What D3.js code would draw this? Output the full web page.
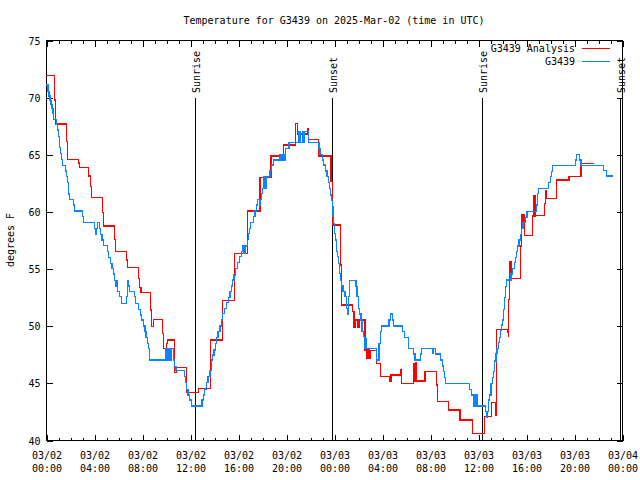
<!DOCTYPE html>
<html><head><meta charset="utf-8">
<script src="https://cdn.jsdelivr.net/npm/d3@7"></script>
<style>
body{margin:0;background:#fff}
svg{display:block}
text{font-family:"DejaVu Sans Mono",monospace;font-size:10px;fill:#000}
</style></head><body>
<svg id="c" width="640" height="480"></svg>
<script>
const titleText = "Temperature for G3439 on 2025-Mar-02 (time in UTC)";
const yLabel = "degrees F";
const seriesNames = ["G3439 Analysis", "G3439"];
const startTime = "2025-03-02T00:00:00Z";
const endTime = "2025-03-04T00:00:00Z";
const yTicks = [40, 45, 50, 55, 60, 65, 70, 75];
const sunEvents = ["Sunrise", "Sunset", "Sunrise", "Sunset"];
const sunHours = [12.45, 23.87, 36.37, 47.87];

// Analysis (hours since start, deg F)
const analysisHours = [0,0.72,0.81,1.69,1.78,2.69,2.78,3.53,3.69,3.78,4.72,4.78,5.69,5.78,6.69,6.78,7.72,7.81,7.92,8.69,8.78,8.94,9.72,9.81,10.03,10.11,10.72,10.89,11.72,12.72,13.72,14.72,15.72,16.78,17.83,18.75,19.78,20.81,20.94,21.81,21.89,22.69,23.75,23.85,24.53,24.64,25.56,25.67,25.81,25.97,26.08,26.58,26.69,26.81,26.92,27.03,27.56,27.86,28.61,28.75,29.53,29.64,30.61,30.69,30.81,30.89,31.58,32.56,32.64,33.53,34.5,35.53,36.53,37.14,37.47,37.56,38.44,38.53,38.56,38.61,38.69,38.75,38.81,39.53,39.64,39.75,39.81,39.86,40.53,40.61,40.69,40.75,40.81,41.53,41.64,41.72,42.56,43.58,44.58,45.64];
const analysisTemps = [71.9,69.75,67.65,66.1,64.56,64.24,63.86,63.1,62.17,61.23,59.89,58.73,57.56,56.51,55.75,55.11,54.15,53.36,52.89,51.38,49.92,50.56,49.33,48.02,48.46,48.75,45.9,46.36,44.14,44.52,48.75,52.22,56.33,60.04,62.98,64.85,65.81,67.71,66.78,67.27,66.31,64.85,62.6,58.81,55.31,51.81,51.23,49.86,50.5,49.86,50.5,47.88,47.15,47.88,47.15,47.82,46.71,45.54,45.1,45.69,46.18,44.96,46.71,45.16,46.77,45.16,45.98,44.81,43.35,42.63,41.75,40.58,42.04,43.3,42.19,49.68,49.39,49.04,52.31,55.6,54.15,55.6,54.15,56.98,59.69,58.81,59.69,57.91,59.6,61.35,59.6,61.35,59.66,60.71,61.79,61.15,62.75,63.07,64.21,64.21];

// Observations (hours since start, deg F)
const obsHours = [0,0.17,0.25,0.33,0.42,0.5,0.58,0.64,0.86,0.94,1.03,1.11,1.19,1.28,1.36,1.61,1.69,1.78,1.86,1.94,2.28,2.36,3.03,3.11,4.06,4.14,4.22,4.28,4.47,4.56,4.67,4.78,5.11,5.19,5.39,5.5,5.64,5.72,5.81,5.89,5.94,6.11,6.28,6.69,6.78,6.86,6.94,7.39,7.47,7.69,7.89,7.97,8.11,8.25,8.33,8.44,8.56,8.64,10.0,10.11,10.25,10.33,10.44,10.61,10.72,10.83,11.53,11.64,11.72,11.83,11.97,12.11,13.0,13.11,13.22,13.39,13.5,13.67,13.78,13.89,14.0,14.11,14.22,14.33,14.5,14.61,14.72,14.86,15.06,15.19,15.33,15.44,15.56,15.67,15.78,15.94,16.11,16.31,16.39,16.47,16.58,16.78,16.86,16.94,17.06,17.28,17.42,17.56,17.64,17.78,17.83,17.94,18.06,18.17,18.25,18.33,18.67,18.81,18.94,19.5,19.64,19.72,19.83,19.94,20.25,21.08,21.22,21.36,21.44,21.53,21.86,22.75,22.83,23.03,23.14,23.31,23.42,23.53,23.61,23.69,23.78,23.86,23.92,23.97,24.03,24.11,24.19,24.28,24.36,24.44,24.53,24.64,24.75,24.92,25.06,25.14,25.19,25.28,25.83,25.92,26.03,26.14,26.25,26.33,26.44,26.53,26.64,26.72,27.56,27.75,27.86,27.97,28.58,28.69,28.86,28.97,29.69,29.86,30.19,30.61,30.75,31.22,31.31,32.19,32.31,32.47,32.86,33.03,33.11,33.19,33.28,35.28,35.47,35.61,35.75,35.83,35.92,35.97,36.64,36.7,36.78,36.86,36.97,37.08,37.19,37.31,37.4,37.5,37.58,37.69,37.78,37.86,37.94,38.03,38.11,38.19,38.31,38.39,38.75,38.86,39.03,39.14,39.22,39.31,39.42,39.53,39.64,39.75,39.97,40.08,40.86,40.94,41.03,41.86,42.03,42.14,42.22,44.14,44.22,44.47,44.58,46.44,46.69,47.25];
const obsTemps = [71.06,70.48,70.1,69.69,69.37,69.02,68.58,68.06,67.65,67.13,66.54,65.58,65.08,64.56,64.0,63.54,63.04,62.52,61.53,61.06,60.56,60.04,59.54,59.05,58.52,58.0,58.52,59.05,58.52,58.0,57.5,57.03,56.48,55.95,55.46,55.0,54.53,53.94,53.42,53.94,52.98,52.54,51.96,52.54,53.94,53.48,53.01,52.54,51.96,51.43,50.94,50.5,49.98,49.48,48.95,48.46,48.02,47.0,48.0,47.0,48.0,47.0,48.0,47.0,46.42,46.07,45.54,45.02,44.43,43.94,43.5,42.98,43.5,43.94,44.43,45.02,45.54,46.07,47.0,47.44,47.88,48.46,48.95,49.48,49.98,50.5,51.08,51.52,52.02,52.45,52.98,53.48,54.0,54.44,55.02,55.52,56.04,56.48,56.98,56.33,56.98,57.56,58.08,58.52,59.02,59.54,60.04,60.56,61.06,60.56,61.06,61.58,62.02,63.04,62.02,63.04,63.57,64.06,64.5,65.0,64.5,65.0,64.5,65.52,66.02,66.98,66.02,66.98,66.02,66.98,66.02,65.52,65.0,64.5,64.06,63.54,63.04,62.52,62.02,61.44,61.0,60.42,59.54,58.96,58.08,57.5,56.48,56.04,55.46,54.58,54.0,53.48,52.98,52.54,51.52,51.03,52.54,53.94,53.42,52.54,51.52,51.03,50.5,49.48,49.04,48.02,48.9,48.02,47.0,48.46,49.48,49.98,50.5,51.03,50.5,49.98,49.48,48.95,48.02,47.53,47.0,47.53,48.02,47.58,48.02,47.53,47.0,46.47,45.98,45.48,44.96,44.43,43.94,42.98,43.94,42.98,43.94,42.98,42.48,41.95,42.48,43.5,43.94,44.96,45.48,45.98,46.9,47.58,48.02,48.52,48.95,49.57,50.06,50.5,51.43,52.49,53.42,54.0,54.53,55.02,55.52,55.98,56.48,56.98,57.5,58.0,58.52,59.02,59.48,59.98,60.56,61.58,62.02,62.52,63.04,63.48,64.03,64.5,65.0,64.5,64.03,63.57,63.1,63.1];

const seriesColors = ["#ff0000", "#0a84ff"];

const svg = d3.select("#c");
const L = 46, R = 622, T = 40, B = 440;
const t0 = new Date(startTime), t1 = new Date(endTime);
const hrs = h => new Date(t0.getTime() + h * 3600e3);
const x = d3.scaleUtc().domain([t0, t1]).range([L, R]);
const y = d3.scaleLinear().domain([40, 75]).range([B, T]);

const g = svg.append("g").attr("shape-rendering", "crispEdges");

function styleAxis(sel) {
  sel.selectAll("path,line").attr("stroke", "#000").attr("stroke-width", 1);
  sel.select(".domain").remove();
}

// minor x ticks (hourly)
const hourTicks = d3.utcHour.every(1).range(t0, new Date(t1.getTime() + 1));
g.append("g").attr("transform", `translate(0.5,${B + 0.5})`)
  .call(d3.axisBottom(x).tickValues(hourTicks).tickSize(-3).tickFormat(""))
  .call(styleAxis);
g.append("g").attr("transform", `translate(0.5,${T + 0.5})`)
  .call(d3.axisTop(x).tickValues(hourTicks).tickSize(-3).tickFormat(""))
  .call(styleAxis);

// major x ticks
const majorTicks = d3.utcHour.every(4).range(t0, new Date(t1.getTime() + 1));
const fmtD = d3.utcFormat("%m/%d"), fmtT = d3.utcFormat("%H:%M");
const xb = g.append("g").attr("transform", `translate(0.5,${B + 0.5})`)
  .call(d3.axisBottom(x).tickValues(majorTicks).tickSize(-6).tickPadding(10).tickFormat(""))
  .call(styleAxis);
xb.selectAll(".tick").append("text").attr("text-anchor", "middle")
  .each(function(d) {
    const t = d3.select(this);
    t.append("tspan").attr("x", 0).attr("y", 18).text(fmtD(d));
    t.append("tspan").attr("x", 0).attr("y", 31).text(fmtT(d));
  });
g.append("g").attr("transform", `translate(0.5,${T + 0.5})`)
  .call(d3.axisTop(x).tickValues(majorTicks).tickSize(-6).tickFormat(""))
  .call(styleAxis);

// y axes
const yl = g.append("g").attr("transform", `translate(${L + 0.5},0.5)`)
  .call(d3.axisLeft(y).tickValues(yTicks).tickSize(-6).tickPadding(6).tickFormat(d3.format("d")))
  .call(styleAxis);
yl.selectAll("text").attr("font-family", null).attr("font-size", null).attr("dy", "0.35em");
g.append("g").attr("transform", `translate(${R + 0.5},0.5)`)
  .call(d3.axisRight(y).tickValues(yTicks).tickSize(-6).tickFormat(""))
  .call(styleAxis);

// frame
g.append("rect").attr("x", L + 0.5).attr("y", T + 0.5).attr("width", R - L).attr("height", B - T)
  .attr("fill", "none").attr("stroke", "#000");

// sunrise / sunset
sunHours.forEach((h, i) => {
  const px = Math.round(x(hrs(h))) + 0.5;
  g.append("line").attr("x1", px).attr("x2", px).attr("y1", 98).attr("y2", B)
    .attr("stroke", "#000").attr("stroke-width", 1);
  svg.append("text").attr("transform", `translate(${px + 4},93) rotate(-90)`)
    .attr("text-anchor", "start").text(sunEvents[i]);
});

// series
const line = d3.line().curve(d3.curveStepAfter).x(d => x(hrs(d[0]))).y(d => y(d[1]));
const aData = analysisHours.map((h, i) => [h, analysisTemps[i]]);
const oData = obsHours.map((h, i) => [h, obsTemps[i]]);
svg.append("path").datum(aData).attr("d", line).attr("fill", "none")
  .attr("shape-rendering", "crispEdges")
  .attr("stroke", seriesColors[0]).attr("stroke-width", 1.3);
svg.append("path").datum(oData).attr("d", line).attr("fill", "none")
  .attr("shape-rendering", "crispEdges")
  .attr("stroke", seriesColors[1]).attr("stroke-width", 1.3);

// title & labels
svg.append("text").attr("x", (L + R) / 2).attr("y", 24).attr("text-anchor", "middle").text(titleText);
svg.append("text").attr("transform", `translate(14,${(T + B) / 2}) rotate(-90)`)
  .attr("text-anchor", "middle").text(yLabel);

// legend
seriesNames.forEach((n, i) => {
  const ly = 48 + i * 13;
  svg.append("text").attr("x", 575).attr("y", ly + 4).attr("text-anchor", "end").text(n);
  svg.append("line").attr("x1", 582).attr("x2", 610).attr("y1", ly + 0.5).attr("y2", ly + 0.5)
    .attr("shape-rendering", "crispEdges")
    .attr("stroke", seriesColors[i]).attr("stroke-width", 1);
});
</script></body></html>
